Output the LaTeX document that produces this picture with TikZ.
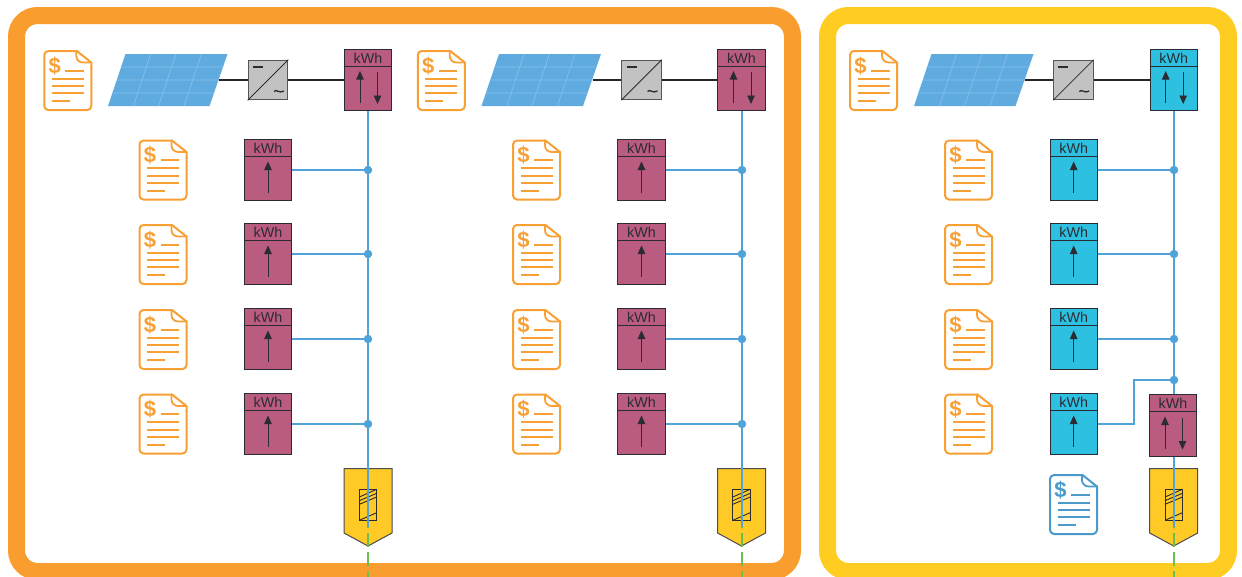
\documentclass[tikz,border=0pt]{standalone}
\usepackage{fontspec}
\setmainfont{Liberation Sans}
\usetikzlibrary{arrows.meta}
\definecolor{frameO}{HTML}{F99D2E}
\definecolor{frameY}{HTML}{FFCC22}
\definecolor{docO}{HTML}{F9A035}
\definecolor{docB}{HTML}{4A9ACB}
\definecolor{mag}{HTML}{BA5B80}
\definecolor{cya}{HTML}{2DC0E0}
\definecolor{wire}{HTML}{4FA3D8}
\definecolor{pv}{HTML}{5FABE0}
\definecolor{pvl}{HTML}{84BFEA}
\definecolor{gate}{HTML}{FFC926}
\definecolor{earth}{HTML}{6CBE4F}
\definecolor{ink}{HTML}{2B2B33}
\tikzset{
  framebox/.style={line width=17pt,rounded corners=21pt},
  meterbox/.style={draw=ink,line width=0.9pt,minimum width=47.5pt,minimum height=61.5pt,inner sep=0pt},
  meterrule/.style={draw=ink,line width=0.9pt},
  meterlabel/.style={font=\fontsize{14.3pt}{15pt}\selectfont,text=ink,inner sep=0pt},
  meterarrow/.style={draw=ink,line width=0.8pt,-{Triangle[length=8.5pt,width=7.5pt]}},
  docline/.style={line width=2pt,line join=round,line cap=round},
  docmark/.style={font=\fontsize{22pt}{22pt}\selectfont\bfseries,inner sep=0pt},
  busline/.style={draw=wire,line width=1.5pt},
  junction/.style={circle,fill=wire,minimum size=8.5pt,inner sep=0pt},
  dcline/.style={draw=black!85,line width=1.2pt},
  invbox/.style={draw=ink!80,fill=black!24,line width=1pt,minimum width=39.5pt,minimum height=39.5pt,inner sep=0pt},
  gatebody/.style={draw=ink!85,fill=gate,line width=1pt,line join=miter},
  gatecore/.style={draw=ink,line width=0.9pt},
  earthline/.style={draw=earth,line width=1.5pt,dash pattern=on 14pt off 5pt},
}
% doc: name, x, y, colour
\newcommand{\billdoc}[4]{%
  \begin{scope}[shift={(#2,#3)}]
    \draw[docline,#4,rounded corners=4pt] (32,0) -- (0,0) -- (0,59) -- (47,59) -- (47,16);
    \draw[docline,#4] (47,17) -- (47,11.5) -- (32.5,0) -- (32,0);
    \draw[docline,#4,line width=1.8pt] (32,0) -- (32,5) .. controls (32,9) and (35,11.5) .. (39,11.5) -- (47,11.5);
    \node[docmark,text=#4] (#1) at (10.5,15) {\$};
    \draw[docline,#4,line cap=butt] (21,19.5) -- (39.5,19.5);
    \draw[docline,#4,line cap=butt] (7.5,27.5) -- (39.5,27.5);
    \draw[docline,#4,line cap=butt] (7.5,35) -- (39.5,35);
    \draw[docline,#4,line cap=butt] (7.5,42) -- (39.5,42);
    \draw[docline,#4,line cap=butt] (7.5,50) -- (25.5,50);
  \end{scope}}
\newcommand{\metercore}[4]{%
  \node[meterbox,fill=#4] (#1) at (#2,#3) {};
  \draw[meterrule] ({#2-24},{#3-14}) -- ({#2+24},{#3-14});
  \node[meterlabel] at ({#2},{#3-22}) {kWh};}
\newcommand{\meterup}[4]{%
  \metercore{#1}{#2}{#3}{#4}
  \draw[meterarrow] ({#2},{#3+23}) -- ({#2},{#3-8.5});}
\newcommand{\meterboth}[4]{%
  \metercore{#1}{#2}{#3}{#4}
  \draw[meterarrow] ({#2-8},{#3+23}) -- ({#2-8},{#3-9});
  \draw[meterarrow] ({#2+9.5},{#3-8}) -- ({#2+9.5},{#3+24});}
% PV panel: name, x offset
\newcommand{\pvpanel}[2]{%
  \begin{scope}[xshift=#2pt]
    \fill[pv] (125.5,54) -- (227.5,54) -- (209.5,106) -- (108,106) -- cycle;
    \draw[pvl,line width=0.7pt] (121.6,67) -- (223.4,67) (117.2,80) -- (219,80) (112.5,93) -- (214.3,93)
      (150.5,54) -- (133.5,106) (176,54) -- (158.5,106) (201.5,54) -- (184,106);
    \coordinate (#1) at (219,80);
  \end{scope}}
% inverter
\newcommand{\inverter}[3]{%
  \node[invbox] (#1) at (#2,#3) {};
  \draw[ink,line width=0.8pt] (#1.south west) -- (#1.north east);
  \draw[ink,line width=1.5pt] ({#2-15},{#3-13}) -- ({#2-5},{#3-13});
  \draw[ink,line width=1.3pt] ({#2+6},{#3+11.5}) .. controls ({#2+8.5},{#3+8.5}) and ({#2+11},{#3+14}) .. ({#2+16},{#3+11});}
% gate: name, cx, bus x
\newcommand{\gatepost}[3]{%
  \begin{scope}[xshift=#2pt]
    \draw[gatebody] (-24,468.5) -- (24,468.5) -- (24,533) -- (0,546) -- (-24,533) -- cycle;
    \draw[gatecore] (-8.7,489) rectangle (8.7,520.5);
    \draw[gatecore] (-8.7,497) -- (8.7,489.3) (-8.7,500.7) -- (8.7,493.3) (-8.7,504.3) -- (8.7,497) (-8.7,520.3) -- (8.7,512.7);
  \end{scope}
  \coordinate (#1) at (#3,527);
  \coordinate (#1s) at (#3,514);
  \coordinate (#1e) at (#3,578);}
\begin{document}
\begin{tikzpicture}[x=1pt,y=-1pt]
\useasboundingbox (0,0) rectangle (1242,576);
\clip (0,0) rectangle (1242,576);
\fill[white] (0,0) rectangle (1242,576);
\draw[framebox,frameO] (16.5,15.5) rectangle (792.5,571.5);
\draw[framebox,frameY] (827.5,15.5) rectangle (1228.5,571.5);

% left plant
\billdoc{da0}{44.3}{51}{docO}
\pvpanel{pa}{0}
\inverter{ia}{268}{80}
\meterboth{ma}{368}{80}{mag}
\draw[dcline] (pa) -- (ia);
\draw[dcline] (ia) -- (ma);
\gatepost{ga}{368}{368}
\draw[earthline] (gas) -- (gae);
\foreach \i/\y/\d in {1/170/140.5,2/254/225,3/339/310,4/424/394.5}{
  \billdoc{da\i}{139.5}{\d}{docO}
  \meterup{ma\i}{268}{\y}{mag}
  \node[junction] (ja\i) at (368,\y) {};
  \draw[busline] (ma\i) -- (ja\i);
}
\draw[busline] (ga |- ma.south) -- (ga);

% middle plant
\billdoc{db0}{417.8}{51}{docO}
\pvpanel{pb}{373.5}
\inverter{ib}{641.5}{80}
\meterboth{mb}{741.5}{80}{mag}
\draw[dcline] (pb) -- (ib);
\draw[dcline] (ib) -- (mb);
\gatepost{gb}{741.5}{742}
\draw[earthline] (gbs) -- (gbe);
\foreach \i/\y/\d in {1/170/140.5,2/254/225,3/339/310,4/424/394.5}{
  \billdoc{db\i}{513}{\d}{docO}
  \meterup{mb\i}{641.5}{\y}{mag}
  \node[junction] (jb\i) at (742,\y) {};
  \draw[busline] (mb\i) -- (jb\i);
}
\draw[busline] (gb |- mb.south) -- (gb);

% right plant
\billdoc{dc0}{850}{51}{docO}
\pvpanel{pc}{806}
\inverter{ic}{1073.3}{80}
\meterboth{mc}{1173.7}{80}{cya}
\draw[dcline] (pc) -- (ic);
\draw[dcline] (ic) -- (mc);
\gatepost{gc}{1173.7}{1174}
\draw[earthline] (gcs) -- (gce);
\foreach \i/\y/\d in {1/170/140.5,2/254/225,3/339/310,4/424/394.5}{
  \billdoc{dc\i}{945}{\d}{docO}
  \meterup{mc\i}{1073.7}{\y}{cya}
}
\foreach \i/\y in {1/170,2/254,3/339}{
  \node[junction] (jc\i) at (1174,\y) {};
  \draw[busline] (mc\i) -- (jc\i);
}
\node[junction] (jc4) at (1174,380) {};
\draw[busline] (jc4 |- mc.south) -- (jc4);
\draw[busline] (mc4.east) -- (1134,424) -- (1134,380) -- (jc4);
\meterboth{md}{1173}{425.5}{mag}
\draw[busline] (jc4) -- (jc4 |- md.north);
\draw[busline] (gc |- md.south) -- (gc);
\billdoc{de}{1050}{475}{docB}
\end{tikzpicture}
\end{document}
